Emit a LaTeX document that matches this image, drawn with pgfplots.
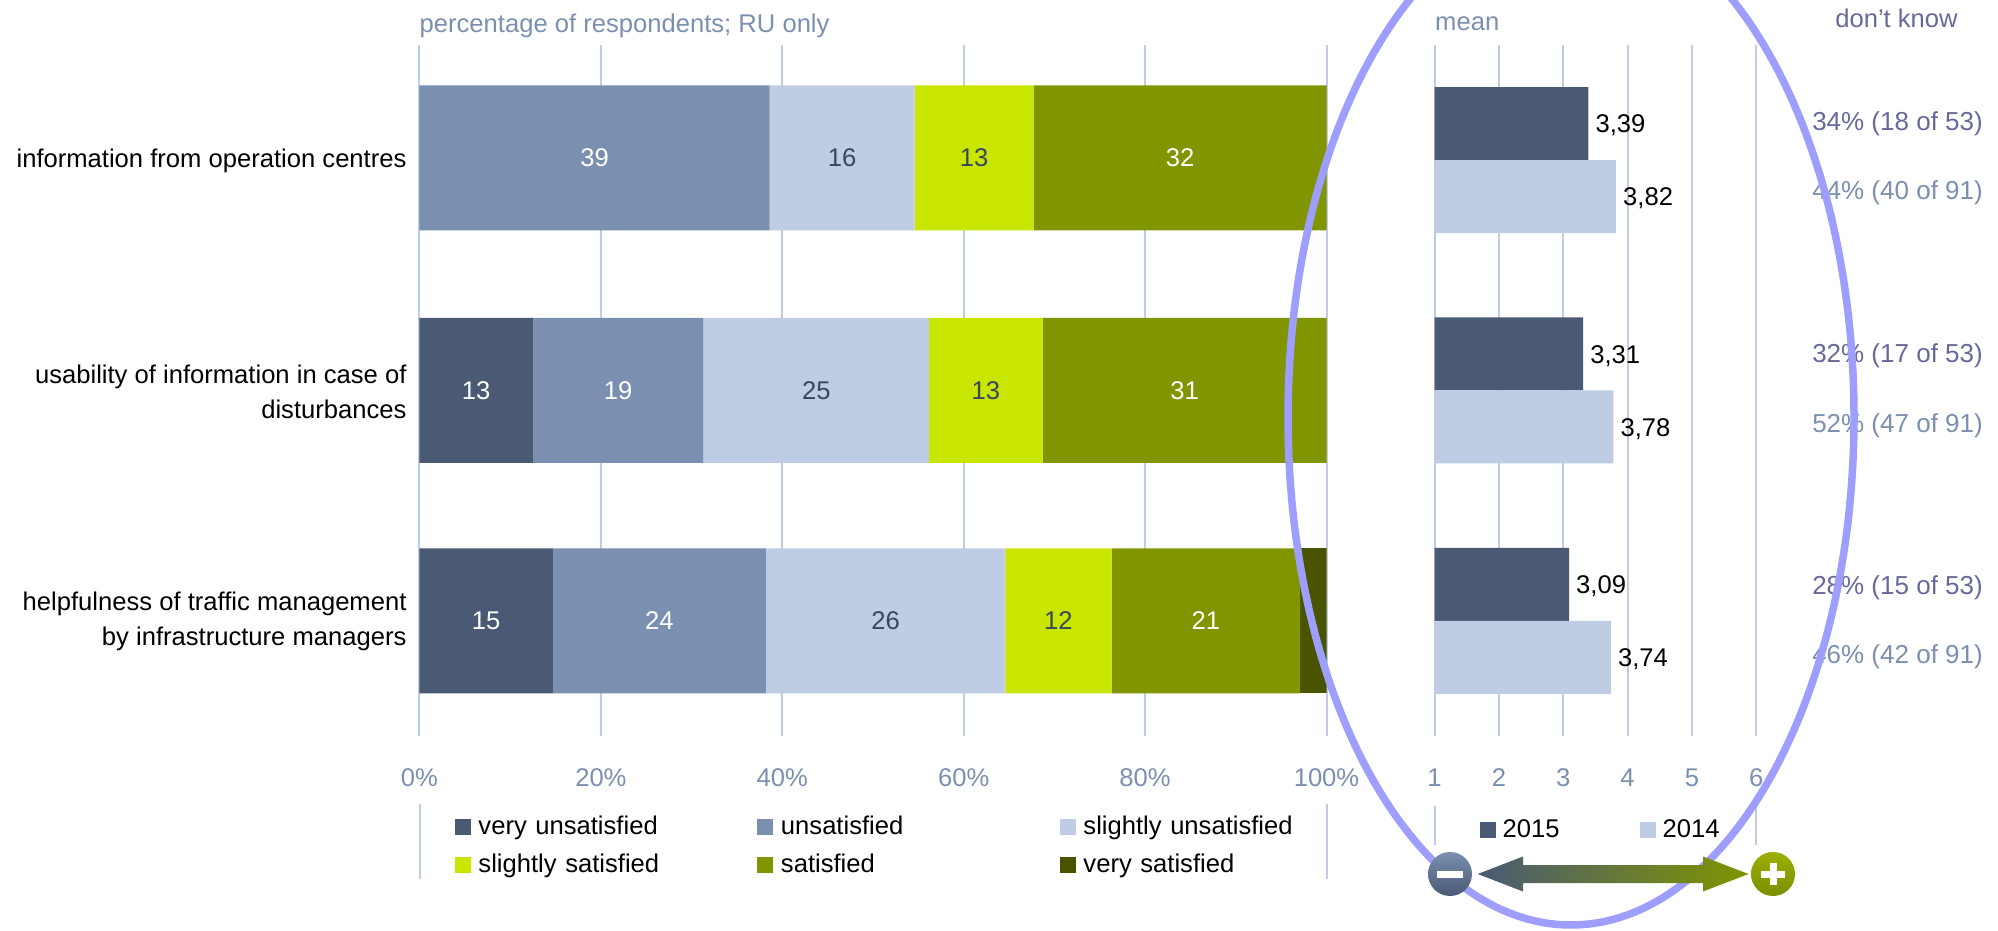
\documentclass[border=0pt]{standalone}
\usepackage{fontspec}
\setmainfont{Liberation Sans}
\usepackage{pgfplots}
\pgfplotsset{compat=1.18}
\usetikzlibrary{shadings}

\definecolor{vdark}{HTML}{4A5A75}
\definecolor{vink}{HTML}{3A465E}
\definecolor{vmid}{HTML}{7B8FB0}
\definecolor{vlight}{HTML}{BFCDE4}
\definecolor{vlime}{HTML}{C8E600}
\definecolor{volive}{HTML}{809500}
\definecolor{vdeep}{HTML}{4A5400}
\definecolor{vpurple}{HTML}{66699A}
\definecolor{vring}{HTML}{9E9EFF}
\definecolor{plustop}{HTML}{9DB000}
\definecolor{plusbot}{HTML}{7A8F00}

\newcommand{\bodysize}{\fontsize{25.6}{35}\selectfont}

\pgfplotsset{
  swatch/.style={legend image code/.code={\fill[##1,draw=none] (0pt,-6.5pt) rectangle (16pt,9.5pt);}},
  panel/.style={
    scale only axis, axis line style={draw=none}, tick style={draw=none},
    major tick length=0pt, xmajorgrids,
    grid style={color=vlight,line width=2pt},
    ymin=0, ymax=3, height=691pt,
    tick label style={font=\bodysize},
    xticklabel style={text=vmid,text height=18pt,text depth=0pt,yshift=-29pt},
    legend style={draw=none,fill=none,font=\bodysize,inner sep=0pt,outer sep=0pt},
  },
  seg/.style={fill=#1,draw=none,swatch},
}

\begin{document}
\begin{tikzpicture}

% satisfaction shares
\begin{axis}[
  panel, at={(419.5pt,194pt)}, anchor=south west, width=907pt,
  xbar stacked, bar width=145pt,
  xmin=0, xmax=100,
  xtick={0,20,40,60,80,100},
  xticklabels={0\%,20\%,40\%,60\%,80\%,100\%},
  ytick={0.5,1.5,2.5},
  yticklabels={{helpfulness of traffic management\\by infrastructure managers},
               {usability of information in case of\\disturbances},
               {information from operation centres}},
  yticklabel style={align=right,xshift=-9.5pt,yshift=-1pt},
  legend columns=3,
  legend style={at={(0,0)},anchor=north west,xshift=35.5pt,yshift=-80pt,
    nodes={text width=271.5pt,align=left,text height=18pt,text depth=6pt,inner xsep=7.5pt,inner ysep=0pt},
    row sep=14pt},
  point meta=rawx,
  nodes near coords={\pgfmathfloatifflags{\pgfplotspointmeta}{0}{}{\pgfmathprintnumber[assume math mode=true,fixed,precision=0]{\pgfplotspointmeta}}},
  every node near coord/.append style={font=\bodysize},
]
\addplot[seg=vdark,nodes near coords style={text=white}] coordinates {(0,2.51) (12.5,1.5) (14.7,0.5)};
\addplot[seg=vmid,nodes near coords style={text=white}] coordinates {(38.6,2.51) (18.8,1.5) (23.5,0.5)};
\addplot[seg=vlight,nodes near coords style={text=vink}] coordinates {(16.0,2.51) (24.9,1.5) (26.4,0.5)};
\addplot[seg=vlime,nodes near coords style={text=vink}] coordinates {(13.1,2.51) (12.5,1.5) (11.7,0.5)};
\addplot[seg=volive,nodes near coords style={text=white}] coordinates {(32.3,2.51) (31.3,1.5) (20.8,0.5)};
\addplot[seg=vdeep,nodes near coords={}] coordinates {(0,2.51) (0,1.5) (2.9,0.5)};
\legend{very unsatisfied,unsatisfied,slightly unsatisfied,slightly satisfied,satisfied,very satisfied}
\end{axis}

% mean scores by year
\begin{axis}[
  panel, at={(1434.6pt,194pt)}, anchor=south west, width=321.6pt,
  xbar, bar width=73pt,
  xmin=1, xmax=6,
  xtick={1,2,3,4,5,6},
  xticklabels={1,2,3,4,5,6},
  ytick=\empty,
  legend columns=2,
  legend style={at={(0,0)},anchor=north west,xshift=45.5pt,yshift=-83.5pt,
    nodes={text width=131pt,align=left,text height=18pt,text depth=6pt,inner xsep=6.5pt,inner ysep=0pt}},
  point meta=x,
  nodes near coords={\pgfmathprintnumber[assume math mode=true,fixed,fixed zerofill,precision=2,use comma]{\pgfplotspointmeta}},
  every node near coord/.append style={font=\bodysize,text=black,inner xsep=7pt,yshift=-2pt},
]
\addplot[seg=vdark,bar shift=36.5pt] coordinates {(3.39,2.5) (3.31,1.5) (3.09,0.5)};
\addplot[seg=vlight,bar shift=-36.5pt] coordinates {(3.82,2.5) (3.78,1.5) (3.74,0.5)};
\legend{2015,2014}
\end{axis}

\begin{scope}[x=1pt,y=1pt]
% short rules beside the legends
\draw[vlight,line width=2pt] (419.5,126) -- (419.5,51);
\draw[vlight,line width=2pt] (1326.5,126) -- (1326.5,51);
\draw[vlight,line width=2pt] (1434.6,124) -- (1434.6,85);
\draw[vlight,line width=2pt] (1756.2,124) -- (1756.2,85);

% panel headings
\node[anchor=west,text=vmid,font=\bodysize,inner sep=0pt] at (419.5,904.5) {percentage of respondents; RU only};
\node[anchor=west,text=vmid,font=\bodysize,inner sep=0pt] at (1435,906) {mean};
\node[anchor=center,text=vpurple,font=\bodysize,inner sep=0pt] at (1896.5,912) {don't know};

% don't-know shares
\begin{scope}[every node/.style={anchor=east,inner sep=0pt,font=\fontsize{26}{30}\selectfont}]
\node[text=vpurple] at (1983,806) {34\% (18 of 53)};
\node[text=vmid] at (1983,737) {44\% (40 of 91)};
\node[text=vpurple] at (1983,574) {32\% (17 of 53)};
\node[text=vmid] at (1983,504) {52\% (47 of 91)};
\node[text=vpurple] at (1983,342) {28\% (15 of 53)};
\node[text=vmid] at (1983,273) {46\% (42 of 91)};
\end{scope}

% highlight ring, cut at the top edge of the page
\begin{scope}
\clip (0,0) rectangle (1998,930);
\draw[vring,line width=7.5pt] (1571,513) ellipse [x radius=283, y radius=508];
\end{scope}

% scale direction arrow with minus and plus buttons
\shade[left color=vdark,right color=volive,shading angle=90]
  (1477.7,56) -- (1523,73.5) -- (1523,65) -- (1703,65) -- (1703,73.5) -- (1748.6,56)
  -- (1703,38.5) -- (1703,47) -- (1523,47) -- (1523,38.5) -- cycle;
\shade[top color=vmid,bottom color=vdark] (1450,56) circle (22);
\fill[white] (1437,52.5) rectangle (1463,59.5);
\shade[top color=plustop,bottom color=plusbot] (1773,56) circle (22);
\fill[white] (1761,52.5) rectangle (1785,59.5);
\fill[white] (1769.5,45) rectangle (1776.5,67);

\pgfresetboundingbox
\path[use as bounding box] (0,0) rectangle (1998,930);
\end{scope}
\end{tikzpicture}
\end{document}
